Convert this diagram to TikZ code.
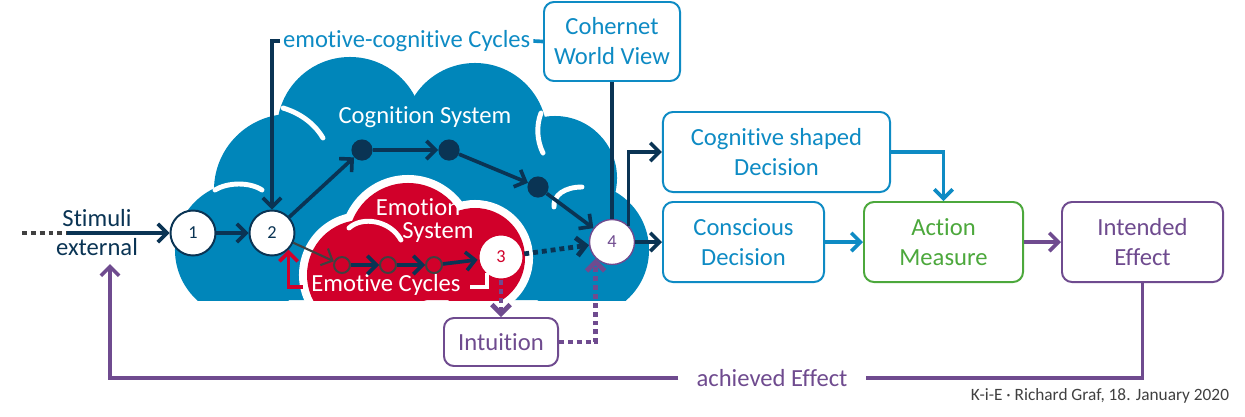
\documentclass[tikz,border=0pt]{standalone}
\usepackage{fontspec}
\setmainfont{Carlito}[Ligatures={NoCommon,NoContextual}]
\usetikzlibrary{arrows.meta}
\definecolor{cloudblue}{HTML}{0086BA}
\definecolor{navy}{HTML}{0A3454}
\definecolor{boxblue}{HTML}{0E8BC4}
\definecolor{emored}{HTML}{D1002A}
\definecolor{actgreen}{HTML}{4CA83C}
\definecolor{effpurple}{HTML}{6F4B8F}
\definecolor{dgray}{HTML}{404040}
\begin{document}
\begin{tikzpicture}[x=0.025cm, y=-0.025cm,
    >={Straight Barb[length=6.5pt,width=13pt]},
    font=\fontsize{17.5}{21.3}\selectfont,
    box/.style={draw, rounded corners=0.25cm, line width=1.4pt, fill=white, align=center, inner sep=0pt},
    numcirc/.style={circle, draw, fill=white, line width=1.4pt, minimum size=1.125cm, inner sep=0pt, font=\fontsize{13}{15}\selectfont},
    cogdot/.style={circle, fill=navy, minimum size=0.53cm, inner sep=0pt},
    emodot/.style={circle, draw=dgray, fill=emored, line width=1.4pt, minimum size=0.4cm, inner sep=0pt},
    flow/.style={->, line width=2.6pt, navy},
    dotflow/.style={->, line width=3.4pt, dash pattern=on 3.5pt off 2.8pt},
    whitearc/.style={white, line width=3.5pt, line cap=round}]
    \useasboundingbox (0,0) rectangle (1245,416);
    % clouds
    \begin{scope}
        \clip (0,0) rectangle (1245,300);
        \foreach \cx/\cy/\r in {243/250/1.7, 290/190/1.9, 350/130/1.825, 475/135/1.8, 555/178/1.55, 582/250/1.675}
            \fill[cloudblue] (\cx,\cy) circle[radius=\r cm];
        \fill[cloudblue] (243,300) -- (243,200) -- (350,130) -- (475,135) -- (555,178) -- (582,300) -- cycle;
        \draw[whitearc] (283,108) .. controls (303,114) and (316,126) .. (323,138);
        \draw[whitearc] (215,190) .. controls (228,182) and (250,182) .. (262,190);
        \draw[whitearc] (541,113) .. controls (536,126) and (537,141) .. (543,153);
        \draw[whitearc] (554,207) .. controls (553,195) and (565,187) .. (582,187);
        \foreach \cx/\cy/\r in {362/275/1.375, 408/243/1.5, 475/258/1.25}
            \fill[white] (\cx,\cy) circle[radius=\r cm + 0.2cm];
        \foreach \cx/\cy/\r in {362/275/1.375, 408/243/1.5, 475/258/1.25}
            \fill[emored] (\cx,\cy) circle[radius=\r cm];
        \fill[emored] (362,300) -- (362,260) -- (408,243) -- (475,258) -- (478,300) -- cycle;
        \draw[whitearc] (349,228) .. controls (362,216) and (390,220) .. (401,240);
    \end{scope}
    \node[white] (cogsys) at (425,117) {Cognition System};
    \node[white] (emo) at (418,207) {Emotion};
    \node[white] (emosys) at (438,232) {System};
    \node[white] (emocyc) at (386,285) {Emotive Cycles};
    % circles
    \node[numcirc, draw=navy, text=navy] (n1) at (193,233) {1};
    \node[numcirc, draw=navy, text=navy] (n2) at (272,233) {2};
    \node[numcirc, draw=emored, text=emored] (n3) at (501,257) {3};
    \node[numcirc, draw=effpurple, text=effpurple, line width=1pt] (n4) at (612,242) {4};
    \node[cogdot] (d1) at (362,150) {};
    \node[cogdot] (d2) at (449,150) {};
    \node[cogdot] (d3) at (538,187) {};
    \node[emodot] (s1) at (342,265) {};
    \node[emodot] (s2) at (388,265) {};
    \node[emodot] (s3) at (434,265) {};
    % texts and boxes
    \node[navy] (stim) at (97,218) {Stimuli};
    \node[navy] (ext) at (97,247) {external};
    \node[boxblue, anchor=west, inner sep=0.07cm] (ecc) at (280,41) {emotive-cognitive Cycles};
    \node[box, draw=boxblue, text=boxblue, minimum width=3.4cm, minimum height=1.975cm] (cwv) at (612,41.5) {Cohernet\\World View};
    \node[box, draw=boxblue, text=boxblue, minimum width=5.675cm, minimum height=2cm] (csd) at (776.5,152) {Cognitive shaped\\Decision};
    \node[box, draw=boxblue, text=boxblue, minimum width=4.025cm, minimum height=2cm] (cd) at (743.5,242) {Conscious\\Decision};
    \node[box, draw=actgreen, text=actgreen, minimum width=3.975cm, minimum height=2cm] (am) at (943.5,242) {Action\\Measure};
    \node[box, draw=effpurple, text=effpurple, minimum width=4.025cm, minimum height=2cm] (ie) at (1142.5,242) {Intended\\Effect};
    \node[box, draw=effpurple, text=effpurple, minimum width=2.85cm, minimum height=1.2cm] (intu) at (501,342) {Intuition};
    \node[effpurple, inner xsep=0.45cm] (ae) at (772,378) {achieved Effect};
    \node[dgray, anchor=east, font=\fontsize{12.3}{14}\selectfont] (foot) at (1234,396) {K-i-E · Richard Graf, 18. January 2020};
    \coordinate (stA) at (22,233);
    \coordinate (stB) at (67,233);
    \coordinate (fbend) at (110,264);
    \coordinate (redA) at (303,287);
    \coordinate (whA) at (470,287);
    \coordinate (whB) at (487,273);
    % connectors
    \draw[dgray, line width=3.4pt, dash pattern=on 3.5pt off 2.8pt] (stA) -- (stB);
    \draw[flow] (stB) -- (n1);
    \draw[flow] (n1) -- (n2);
    \draw[flow] (n2) -- (d1);
    \draw[flow] (d1) -- (d2);
    \draw[flow] (d2) -- (d3);
    \draw[flow] (d3) -- (n4);
    \draw[flow, dgray, line width=1.5pt] (n2) -- (s1);
    \draw[flow] (s1) -- (s2);
    \draw[flow] (s2) -- (s3);
    \draw[flow] (s3) -- (n3);
    \draw[dotflow, navy] (n3) -- (n4);
    \draw[flow] (ecc.west) -| (n2);
    \draw[boxblue, line width=2.6pt] (ecc.east) -- (cwv.west);
    \draw[navy, line width=2.6pt] (cwv) -- (n4);
    \draw[flow] (n4.45) |- (csd.west);
    \draw[flow] (n4) -- (cd);
    \draw[flow, boxblue] (csd.east) -| (am.north);
    \draw[flow, boxblue] (cd) -- (am);
    \draw[flow, effpurple] (am) -- (ie);
    \draw[effpurple, line width=2.6pt] (ie.south) |- (ae.east);
    \draw[flow, effpurple] (ae.west) -| (fbend);
    \draw[dotflow, effpurple] (n3) -- (intu);
    \draw[dotflow, effpurple] (intu.east) -| (n4.225);
    \draw[flow, emored] (redA) -| (n2.-45);
    \draw[white, line width=2.6pt] (whA) -| (whB);
\end{tikzpicture}
\end{document}
